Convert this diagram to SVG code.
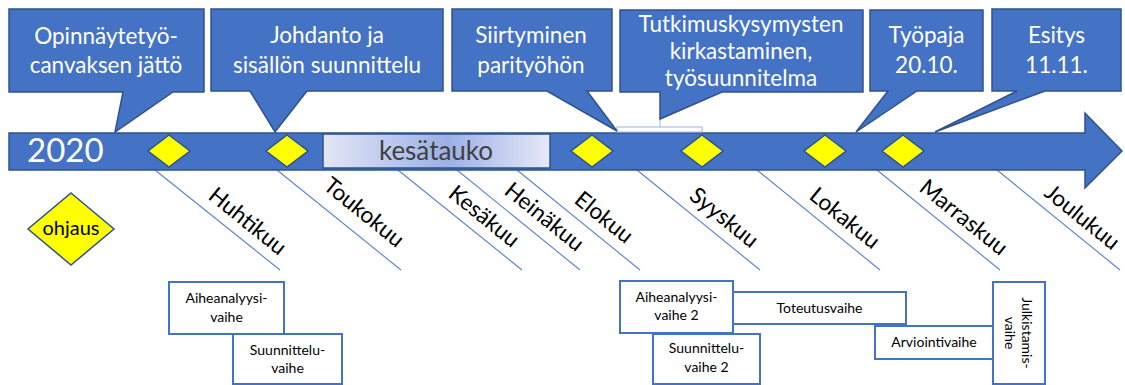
<svg xmlns="http://www.w3.org/2000/svg" width="1125" height="385" viewBox="0 0 1125 385">
<defs>
<linearGradient id="kg" x1="0" y1="0" x2="1" y2="0">
<stop offset="0" stop-color="#e2e6f6"/>
<stop offset="0.55" stop-color="#9cb0e6"/>
<stop offset="1" stop-color="#e6eaf8"/>
</linearGradient>
<style>
.bar{fill:#4472C4;stroke:#2F528F;stroke-width:1.5}
.call{fill:#4472C4;stroke:#2F528F;stroke-width:1.5}
.ct{font-family:Lato,"Liberation Sans",sans-serif;font-size:22.5px;fill:#ffffff;text-anchor:middle}
.dia{fill:#FFFF00;stroke:#2F528F;stroke-width:1.5}
.ml{stroke:#5B82C9;stroke-width:1.1;fill:none}
.mt{font-family:Lato,"Liberation Sans",sans-serif;font-size:22.5px;fill:#000000}
.box{fill:#ffffff;stroke:#4472C4;stroke-width:2}
.bt{font-family:Lato,"Liberation Sans",sans-serif;font-size:14px;fill:#000000;text-anchor:middle}
</style>
</defs>
<rect width="1125" height="385" fill="#ffffff"/>
<g id="connectors">
<line class="ml" x1="155" y1="170" x2="280" y2="270"/>
<line class="ml" x1="277" y1="170" x2="401" y2="270"/>
<line class="ml" x1="398" y1="170" x2="522" y2="270"/>
<line class="ml" x1="457" y1="170" x2="580" y2="270"/>
<line class="ml" x1="517" y1="170" x2="640" y2="270"/>
<line class="ml" x1="637" y1="170" x2="760" y2="270"/>
<line class="ml" x1="757" y1="170" x2="880" y2="270"/>
<line class="ml" x1="877" y1="170" x2="1000" y2="270"/>
<line class="ml" x1="997" y1="170" x2="1120" y2="270"/>
</g>
<g id="timeline">
<path class="bar" d="M9,133 H1085 V113 L1122,151 L1085,188 V170 H9 Z"/>
<text x="27" y="162" font-family="Lato,'Liberation Sans',sans-serif" font-size="33" fill="#ffffff">2020</text>
</g>
<g id="kesatauko">
<rect x="323" y="134" width="227" height="34" fill="url(#kg)" stroke="#2F528F" stroke-width="1.5"/>
<text x="436" y="160" font-family="Lato,'Liberation Sans',sans-serif" font-size="26" fill="#404040" text-anchor="middle">kesätauko</text>
</g>
<g id="bracket">
<rect x="617" y="127" width="85" height="5" fill="#ffffff" stroke="#9DB3E3" stroke-width="1"/>
<line x1="660" y1="119" x2="660" y2="127" stroke="#9DB3E3" stroke-width="1"/>
</g>
<g id="callout1">
<path class="call" d="M9,9 H204 V92 H173 L115,132 L123,92 H9 Z"/>
<text class="ct" x="106" y="44">Opinnäytetyö-</text>
<text class="ct" x="106" y="73">canvaksen jättö</text>
</g>
<g id="callout2">
<path class="call" d="M211,9 H443 V91 H307 L275,132 L250,91 H211 Z"/>
<text class="ct" x="327" y="43">Johdanto ja</text>
<text class="ct" x="327" y="73">sisällön suunnittelu</text>
</g>
<g id="callout3">
<path class="call" d="M452,9 H612 V91 H587 L617,131 L547,91 H452 Z"/>
<text class="ct" x="531" y="43">Siirtyminen</text>
<text class="ct" x="531" y="73">parityöhön</text>
</g>
<g id="callout4">
<path class="call" d="M620,10 H863 V92 H722 L660,119 L660,92 H620 Z"/>
<text class="ct" x="741" y="32">Tutkimuskysymysten</text>
<text class="ct" x="741" y="59">kirkastaminen,</text>
<text class="ct" x="741" y="86">työsuunnitelma</text>
</g>
<g id="callout5">
<path class="call" d="M870,10 H983 V91 H917 L856,132 L888,91 H870 Z"/>
<text class="ct" x="926.5" y="43">Työpaja</text>
<text class="ct" x="926.5" y="73">20.10.</text>
</g>
<g id="callout6">
<path class="call" d="M992,9 H1121 V91 H1045 L935,132 L1017,91 H992 Z"/>
<text class="ct" x="1056.5" y="43">Esitys</text>
<text class="ct" x="1056.5" y="73">11.11.</text>
</g>
<g id="milestones">
<path class="dia" d="M169,135 L190,151 L169,167 L148,151 Z"/>
<path class="dia" d="M287,135 L308,151 L287,167 L266,151 Z"/>
<path class="dia" d="M592,135 L613,151 L592,167 L571,151 Z"/>
<path class="dia" d="M702,135 L723,151 L702,167 L681,151 Z"/>
<path class="dia" d="M825,135 L846,151 L825,167 L804,151 Z"/>
<path class="dia" d="M903,135 L924,151 L903,167 L882,151 Z"/>
</g>
<g id="ohjaus">
<path class="dia" d="M71,193 L114,229 L71,265 L28,229 Z"/>
<text x="71" y="235" font-family="Lato,'Liberation Sans',sans-serif" font-size="20" fill="#000000" text-anchor="middle">ohjaus</text>
</g>
<g id="months">
<text class="mt" transform="translate(207,198) rotate(39)">Huhtikuu</text>
<text class="mt" transform="translate(322,188) rotate(39)">Toukokuu</text>
<text class="mt" transform="translate(447,196) rotate(39)">Kesäkuu</text>
<text class="mt" transform="translate(503,193) rotate(39)">Heinäkuu</text>
<text class="mt" transform="translate(573,202) rotate(39)">Elokuu</text>
<text class="mt" transform="translate(688,198) rotate(39)">Syyskuu</text>
<text class="mt" transform="translate(808,198) rotate(39)">Lokakuu</text>
<text class="mt" transform="translate(918,190) rotate(39)">Marraskuu</text>
<text class="mt" transform="translate(1043,195) rotate(39)">Joulukuu</text>
</g>
<g id="phase1">
<rect class="box" x="169" y="282" width="115" height="52"/>
<text class="bt" x="226.5" y="303">Aiheanalyysi-</text>
<text class="bt" x="226.5" y="322">vaihe</text>
</g>
<g id="phase2">
<rect class="box" x="233" y="334" width="109" height="50"/>
<text class="bt" x="287.5" y="355">Suunnittelu-</text>
<text class="bt" x="287.5" y="373">vaihe</text>
</g>
<g id="phase3">
<rect class="box" x="733" y="292" width="173" height="32"/>
<text class="bt" x="819.5" y="313">Toteutusvaihe</text>
</g>
<g id="phase4">
<rect class="box" x="620" y="281" width="113" height="52"/>
<text class="bt" x="676.5" y="302">Aiheanalyysi-</text>
<text class="bt" x="676.5" y="320">vaihe 2</text>
</g>
<g id="phase5">
<rect class="box" x="653" y="334" width="107" height="50"/>
<text class="bt" x="706.5" y="353">Suunnittelu-</text>
<text class="bt" x="706.5" y="372">vaihe 2</text>
</g>
<g id="phase6">
<rect class="box" x="875" y="326" width="118" height="33"/>
<text class="bt" x="934" y="347">Arviointivaihe</text>
</g>
<g id="phase7">
<rect class="box" x="993" y="282" width="52" height="102"/>
<text class="bt" transform="translate(1022,333) rotate(90)"><tspan x="0" y="0">Julkistamis-</tspan><tspan x="0" y="17">vaihe</tspan></text>
</g>
</svg>
